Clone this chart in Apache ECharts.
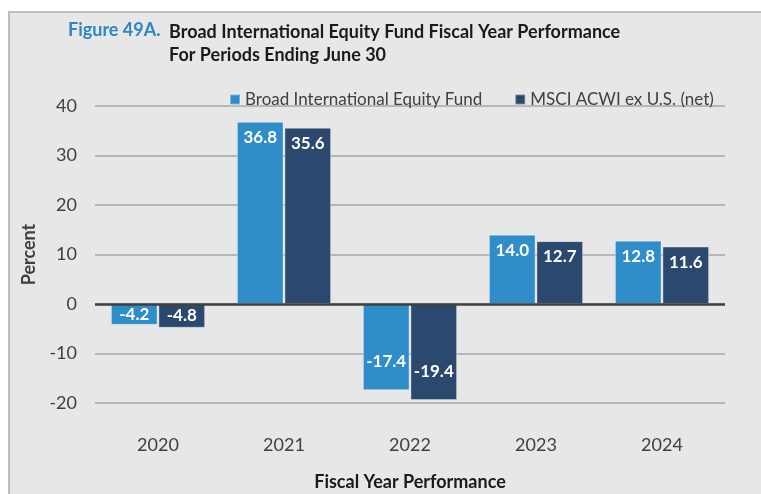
<!DOCTYPE html>
<html>
<head>
<meta charset="utf-8">
<script src="https://cdn.jsdelivr.net/npm/echarts@6/dist/echarts.min.js"></script>
<style>
  html, body { margin: 0; padding: 0; background: #ffffff; }
  #chart { width: 761px; height: 494px; }
</style>
</head>
<body>
<div id="chart"></div>
<script>
var years = ['2020', '2021', '2022', '2023', '2024'];
var fundValues = [-4.2, 36.8, -17.4, 14.0, 12.8];
var indexValues = [-4.8, 35.6, -19.4, 12.7, 11.6];
var seriesNames = ['Broad International Equity Fund', 'MSCI ACWI ex U.S. (net)'];

var font = 'Lato, "Open Sans", sans-serif';
var ink = '#404040';
var light = '#2f8dc9';
var dark = '#2b486e';

// Excel-ish label placement: near the bar end, centred on short negative bars
function toItems(values) {
  return values.map(function(v) {
    var pos = v >= 0 ? 'insideTop' : (v < -10 ? 'insideBottom' : 'inside');
    return { value: v, label: { position: pos, distance: v < -10 ? 20 : 7 } };
  });
}

function barSeries(name, values, color) {
  return {
    name: name,
    type: 'bar',
    data: toItems(values),
    barWidth: '37%',
    barGap: '2%',
    itemStyle: { color: color, borderColor: 'rgba(255,255,255,0.35)', borderWidth: 1 },
    label: {
      show: true,
      color: '#ffffff',
      fontFamily: font,
      fontWeight: 'bold',
      fontSize: 17,
      formatter: function(p) { return p.value.toFixed(1); }
    }
  };
}

var chart = echarts.init(document.getElementById('chart'), null, { renderer: 'canvas' });
var fundSeries = barSeries(seriesNames[0], fundValues, light);
fundSeries.markLine = {
  silent: true,
  symbol: 'none',
  label: { show: false },
  lineStyle: { color: ink, width: 2.5, type: 'solid' },
  data: [{ yAxis: 0 }]
};

chart.setOption({
  animation: false,
  graphic: [{
    type: 'rect',
    z: -10,
    shape: { x: 9, y: 12, width: 800, height: 520 },
    style: { fill: '#e7e7e7', stroke: '#bdbdbd', lineWidth: 2 }
  }],
  title: [
    {
      text: 'Figure 49A.',
      left: 63,
      top: 16,
      textStyle: { color: '#2e86c1', fontFamily: font, fontWeight: 'bold', fontSize: 18 }
    },
    {
      text: 'Broad International Equity Fund Fiscal Year Performance\nFor Periods Ending June 30',
      left: 164,
      top: 16,
      textStyle: { color: '#1a1a1a', fontFamily: font, fontWeight: 'bold', fontSize: 18, lineHeight: 23 }
    }
  ],
  legend: {
    data: seriesNames,
    left: 224,
    top: 86,
    icon: 'rect',
    itemWidth: 10,
    itemHeight: 10,
    itemGap: 32,
    textStyle: { color: ink, fontFamily: font, fontSize: 17 }
  },
  grid: { left: 95, right: 36, top: 106, bottom: 91, outerBoundsMode: 'none' },
  xAxis: {
    type: 'category',
    data: years,
    axisLine: { show: false, onZero: false },
    axisTick: { show: false },
    axisLabel: { color: ink, fontFamily: font, fontSize: 18, margin: 33 },
    name: 'Fiscal Year Performance',
    nameLocation: 'middle',
    nameGap: 70,
    nameTextStyle: { color: '#1a1a1a', fontFamily: font, fontWeight: 'bold', fontSize: 18 }
  },
  yAxis: {
    type: 'value',
    min: -20,
    max: 40,
    interval: 10,
    axisLine: { show: false },
    axisTick: { show: false },
    axisLabel: { color: ink, fontFamily: font, fontSize: 18, margin: 18 },
    splitLine: { lineStyle: { color: '#a6a6a6', width: 1.5 } },
    name: 'Percent',
    nameLocation: 'middle',
    nameGap: 51,
    nameTextStyle: { color: ink, fontFamily: font, fontWeight: 'bold', fontSize: 18 }
  },
  series: [fundSeries, barSeries(seriesNames[1], indexValues, dark)]
});
</script>
</body>
</html>
